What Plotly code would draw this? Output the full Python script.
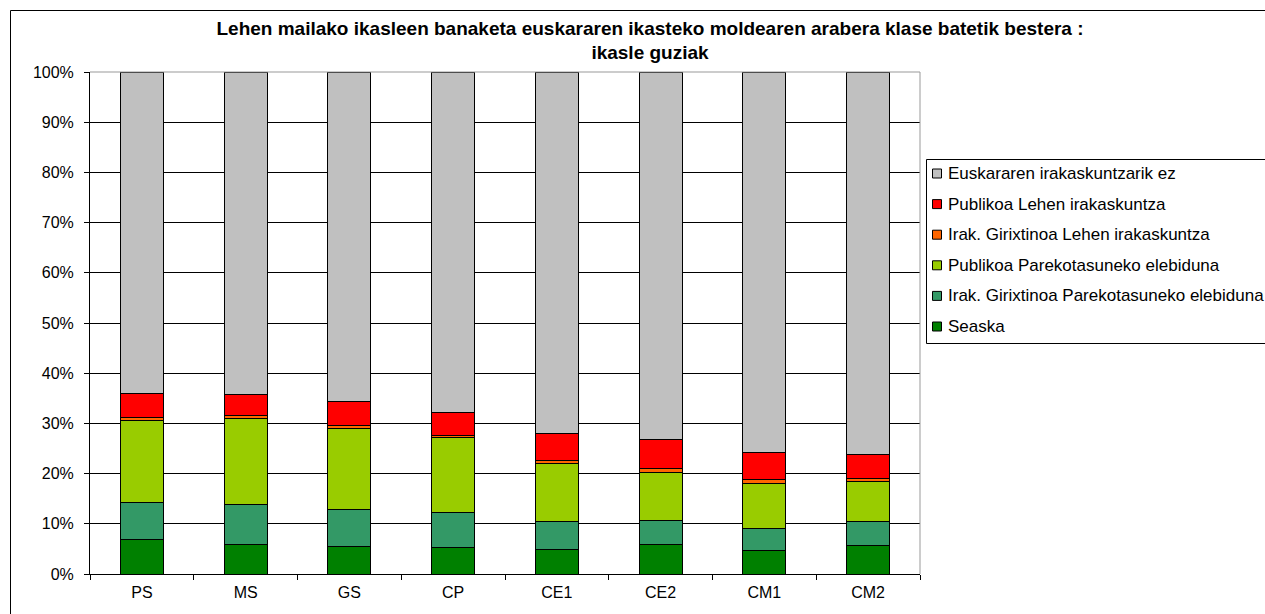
import plotly.graph_objects as go

categories = ["PS", "MS", "GS", "CP", "CE1", "CE2", "CM1", "CM2"]

seaska = [6.8, 5.9, 5.5, 5.3, 4.9, 5.9, 4.7, 5.6]
irak_pareko = [7.4, 7.9, 7.4, 7.0, 5.6, 4.8, 4.4, 4.9]
publiko_pareko = [16.4, 17.1, 16.0, 14.8, 11.5, 9.5, 9.0, 8.0]
irak_lehen = [0.6, 0.7, 0.7, 0.4, 0.6, 0.8, 0.7, 0.5]
publiko_lehen = [4.8, 4.1, 4.8, 4.7, 5.4, 5.7, 5.5, 4.9]
ez = [64.0, 64.3, 65.6, 67.8, 72.0, 73.3, 75.7, 76.1]

series = [
    ("Seaska", seaska, "#008000"),
    ("Irak. Girixtinoa Parekotasuneko elebiduna", irak_pareko, "#339966"),
    ("Publikoa Parekotasuneko elebiduna", publiko_pareko, "#99CC00"),
    ("Irak. Girixtinoa Lehen irakaskuntza", irak_lehen, "#FF6600"),
    ("Publikoa Lehen irakaskuntza", publiko_lehen, "#FF0000"),
    ("Euskararen irakaskuntzarik ez", ez, "#C0C0C0"),
]

W, H = 1265, 614
L, R, T, B = 90, 345, 72, 40
PW, PH = W - L - R, H - T - B

def px(x):
    return (x - L) / PW

def py(y):
    return (H - B - y) / PH

fig = go.Figure()
for name, vals, color in series:
    fig.add_trace(go.Bar(
        x=categories, y=[v / 100 for v in vals], name=name,
        marker=dict(color=color, line=dict(color="black", width=1)),
        showlegend=False,
    ))

font_family = "Liberation Sans, Arial, sans-serif"

shapes = [
    dict(type="line", xref="paper", yref="paper", x0=0, x1=1, y0=1, y1=1,
         line=dict(color="#999999", width=1)),
    dict(type="line", xref="paper", yref="paper", x0=1, x1=1, y0=0, y1=1,
         line=dict(color="#999999", width=1)),
    dict(type="rect", xref="paper", yref="paper",
         x0=px(10.5), x1=px(1300), y0=py(650), y1=py(10.5),
         line=dict(color="black", width=1), layer="below"),
    # legend box
    dict(type="rect", xref="paper", yref="paper",
         x0=px(926.5), x1=px(1290), y0=py(343.5), y1=py(159.5),
         line=dict(color="black", width=1), fillcolor="white", layer="below"),
]
annotations = []
legend_top, legend_step = 173.5, 30.6
for i, (name, vals, color) in enumerate(reversed(series)):
    yc = legend_top + i * legend_step
    shapes.append(dict(type="rect", xref="paper", yref="paper",
                       x0=px(932.5), x1=px(941.5), y0=py(yc + 4.5), y1=py(yc - 4.5),
                       line=dict(color="black", width=1), fillcolor=color))
    annotations.append(dict(text=name, xref="paper", yref="paper",
                            x=px(946), y=py(yc), xanchor="left", yanchor="middle",
                            showarrow=False, font=dict(size=17, family=font_family, color="black")))

fig.update_layout(
    barmode="stack",
    bargap=0.585,
    width=W, height=H,
    margin=dict(l=L, r=R, t=T, b=B),
    paper_bgcolor="white", plot_bgcolor="white",
    font=dict(family=font_family, size=16, color="black"),
    title=dict(
        text="<b>Lehen mailako ikasleen banaketa euskararen ikasteko moldearen arabera klase batetik bestera :<br>ikasle guziak</b>",
        x=650 / W, xref="container", xanchor="center",
        y=1 - 34.5 / H, yref="container", yanchor="middle",
        font=dict(size=19, family=font_family, color="black"),
    ),
    xaxis=dict(
        showgrid=False, showline=True, linecolor="black", linewidth=1,
        ticks="outside", tickson="boundaries", ticklen=5, tickcolor="black",
        tickfont=dict(size=16), ticklabelstandoff=4,
    ),
    yaxis=dict(
        range=[0, 1], tickformat=".0%", dtick=0.1,
        showgrid=True, gridcolor="black", gridwidth=1,
        showline=True, linecolor="black", linewidth=1,
        ticks="outside", ticklen=5, tickcolor="black",
        zeroline=False, tickfont=dict(size=16), ticklabelstandoff=7,
    ),
    shapes=shapes,
    annotations=annotations,
)

fig.write_html("out.html", config={"displayModeBar": False},
               post_script="document.body.style.margin='0';")
